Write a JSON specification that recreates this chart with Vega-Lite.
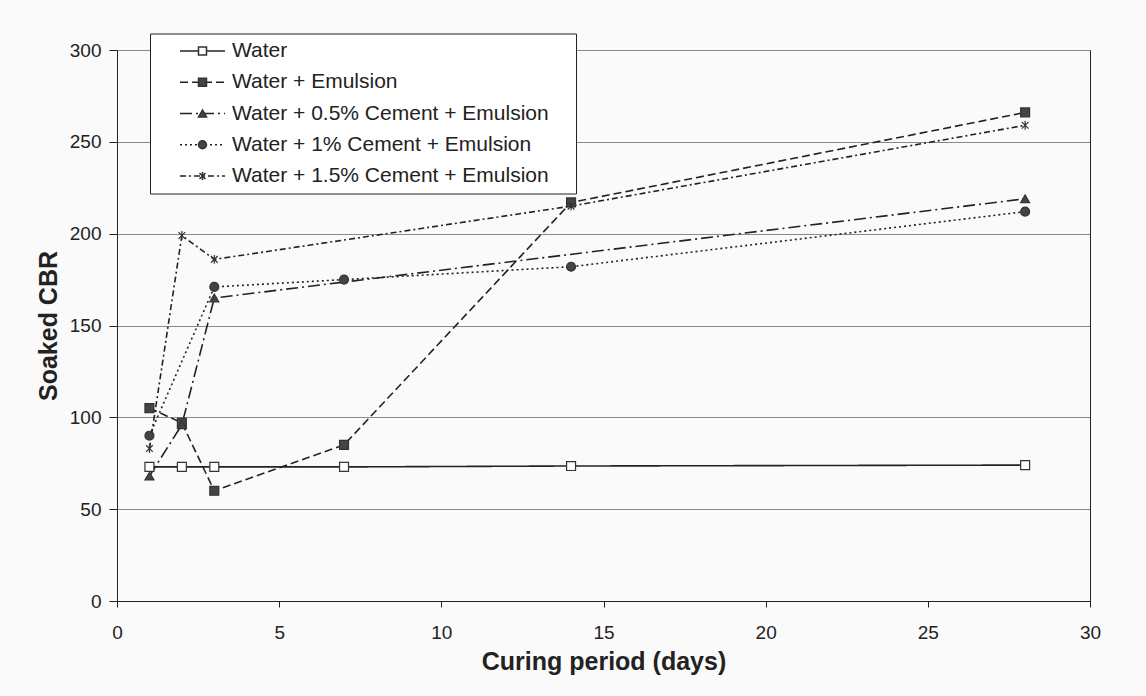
{
  "$schema": "https://vega.github.io/schema/vega-lite/v6.json",
  "width": 973,
  "height": 551,
  "autosize": {"type": "none"},
  "padding": {"left": 117, "top": 50, "right": 56, "bottom": 95},
  "background": "#fafafa",
  "config": {"font": "Liberation Sans", "view": {"stroke": null}},
  "data": {
    "values": [
      {"series": "Water", "day": 1, "cbr": 73},
      {"series": "Water", "day": 2, "cbr": 73},
      {"series": "Water", "day": 3, "cbr": 73},
      {"series": "Water", "day": 7, "cbr": 73},
      {"series": "Water", "day": 14, "cbr": 73.5},
      {"series": "Water", "day": 28, "cbr": 74},
      {"series": "Water + Emulsion", "day": 1, "cbr": 105},
      {"series": "Water + Emulsion", "day": 2, "cbr": 97},
      {"series": "Water + Emulsion", "day": 3, "cbr": 60},
      {"series": "Water + Emulsion", "day": 7, "cbr": 85},
      {"series": "Water + Emulsion", "day": 14, "cbr": 217},
      {"series": "Water + Emulsion", "day": 28, "cbr": 266},
      {"series": "Water + 0.5% Cement + Emulsion", "day": 1, "cbr": 68},
      {"series": "Water + 0.5% Cement + Emulsion", "day": 2, "cbr": 96},
      {"series": "Water + 0.5% Cement + Emulsion", "day": 3, "cbr": 165},
      {"series": "Water + 0.5% Cement + Emulsion", "day": 28, "cbr": 219},
      {"series": "Water + 1% Cement + Emulsion", "day": 1, "cbr": 90},
      {"series": "Water + 1% Cement + Emulsion", "day": 3, "cbr": 171},
      {"series": "Water + 1% Cement + Emulsion", "day": 7, "cbr": 175},
      {"series": "Water + 1% Cement + Emulsion", "day": 14, "cbr": 182},
      {"series": "Water + 1% Cement + Emulsion", "day": 28, "cbr": 212},
      {"series": "Water + 1.5% Cement + Emulsion", "day": 1, "cbr": 83},
      {"series": "Water + 1.5% Cement + Emulsion", "day": 2, "cbr": 199},
      {"series": "Water + 1.5% Cement + Emulsion", "day": 3, "cbr": 186},
      {"series": "Water + 1.5% Cement + Emulsion", "day": 14, "cbr": 215},
      {"series": "Water + 1.5% Cement + Emulsion", "day": 28, "cbr": 259}
    ]
  },
  "layer": [
    {
      "mark": {"type": "line", "color": "#222", "strokeWidth": 1.6},
      "encoding": {
        "x": {
          "field": "day", "type": "quantitative",
          "scale": {"domain": [0, 30], "nice": false},
          "axis": {
            "values": [0, 5, 10, 15, 20, 25, 30], "grid": false,
            "tickSize": 6, "tickColor": "#222", "domainColor": "#222",
            "labelFontSize": 19, "labelColor": "#222", "labelPadding": 16, "labelFlush": false,
            "title": "Curing period (days)", "titleFontSize": 25, "titleFontWeight": "bold",
            "titleColor": "#222", "titlePadding": 7
          }
        },
        "y": {
          "field": "cbr", "type": "quantitative",
          "scale": {"domain": [0, 300], "nice": false},
          "axis": {
            "values": [0, 50, 100, 150, 200, 250, 300], "grid": true,
            "gridColor": "#8a8a8a", "gridWidth": 1,
            "tickSize": 8, "tickColor": "#222", "domainColor": "#222",
            "labelFontSize": 19, "labelColor": "#222", "labelPadding": 8,
            "title": "Soaked CBR", "titleFontSize": 25, "titleFontWeight": "bold",
            "titleColor": "#222", "titlePadding": 8
          }
        },
        "strokeDash": {
          "field": "series", "type": "nominal",
          "sort": ["Water", "Water + Emulsion", "Water + 0.5% Cement + Emulsion", "Water + 1% Cement + Emulsion", "Water + 1.5% Cement + Emulsion"],
          "scale": {"range": [[1, 0], [8, 4], [12, 4, 2, 4], [2, 3], [6, 3, 2, 3]]},
          "legend": {
            "title": ".", "titleOrient": "right", "titleColor": "transparent", "titleFontSize": 21, "titlePadding": 14,
            "orient": "none", "legendX": 33, "legendY": -16.5,
            "padding": 7, "rowPadding": 9.25,
            "fillColor": "#ffffff", "strokeColor": "#222",
            "symbolType": "M-2.368,0H2.368", "symbolSize": 361, "symbolOffset": 35,
            "symbolStrokeColor": "#222", "symbolStrokeWidth": 1.5,
            "labelFontSize": 21, "labelColor": "#222", "labelOffset": 19, "labelLimit": 600,
            "zindex": 1
          }
        },
        "order": {"field": "day"}
      }
    },
    {
      "mark": {"type": "point", "filled": true, "stroke": "#333", "strokeWidth": 1.2, "size": 80, "opacity": 1},
      "encoding": {
        "x": {"field": "day", "type": "quantitative"},
        "y": {
          "field": "cbr", "type": "quantitative",
          "axis": {"orient": "right", "labels": false, "ticks": false, "grid": false, "title": null, "domainColor": "#222"}
        },
        "shape": {
          "field": "series", "type": "nominal",
          "scale": {
            "domain": ["Water", "Water + Emulsion", "Water + 0.5% Cement + Emulsion", "Water + 1% Cement + Emulsion", "Water + 1.5% Cement + Emulsion"],
            "range": ["square", "square", "triangle-up", "circle", "M-0.75,-0.75L0.75,0.75M-0.75,0.75L0.75,-0.75M0,-1L0,1"]
          },
          "legend": {
            "title": null, "orient": "none", "legendX": 68, "legendY": -16.5,
            "padding": 7, "rowPadding": 9.25,
            "symbolSize": 64, "symbolOpacity": 1,
            "labelFontSize": 21, "labelExpr": "''", "labelLimit": 600,
            "zindex": 2,
            "encode": {"symbols": {"update": {"stroke": {"value": "#333"}, "strokeWidth": {"value": 1.2}}}}
          }
        },
        "fill": {
          "field": "series", "type": "nominal",
          "scale": {
            "domain": ["Water", "Water + Emulsion", "Water + 0.5% Cement + Emulsion", "Water + 1% Cement + Emulsion", "Water + 1.5% Cement + Emulsion"],
            "range": ["#ffffff", "#444444", "#444444", "#444444", "#444444"]
          },
          "legend": {
            "title": null, "orient": "none", "legendX": 68, "legendY": -16.5,
            "padding": 7, "rowPadding": 9.25,
            "symbolSize": 64, "symbolOpacity": 1,
            "labelFontSize": 21, "labelExpr": "''", "labelLimit": 600,
            "zindex": 2,
            "encode": {"symbols": {"update": {"stroke": {"value": "#333"}, "strokeWidth": {"value": 1.2}}}}
          }
        }
      }
    }
  ],
  "resolve": {"axis": {"y": "independent"}}
}
